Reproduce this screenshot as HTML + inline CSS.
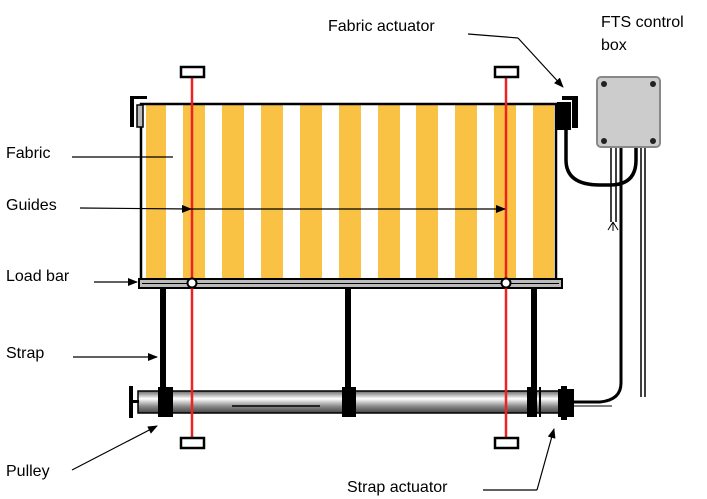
<!DOCTYPE html>
<html><head><style>body{margin:0;background:#fff}svg{display:block}text{font-family:"Liberation Sans",Arial,sans-serif;font-size:16px;fill:#000}</style></head><body>
<svg width="707" height="499" viewBox="0 0 707 499">
<defs>
<linearGradient id="rg" x1="0" y1="0" x2="0" y2="1">
<stop offset="0" stop-color="#666"/><stop offset="0.35" stop-color="#fff"/><stop offset="0.7" stop-color="#888"/><stop offset="1" stop-color="#444"/></linearGradient>
<marker id="ah" markerWidth="10" markerHeight="8" refX="9" refY="4" orient="auto" markerUnits="userSpaceOnUse"><path d="M0,0L10,4L0,8z" fill="#000"/></marker>
</defs>
<rect x="141" y="104" width="416" height="176" fill="#fff"/>
<g fill="#f9c244">
<rect x="146" y="105" width="20" height="174"/><rect x="183" y="105" width="22" height="174"/><rect x="222" y="105" width="22" height="174"/><rect x="261" y="105" width="22" height="174"/><rect x="300" y="105" width="22" height="174"/><rect x="339" y="105" width="22" height="174"/><rect x="378" y="105" width="22" height="174"/><rect x="416" y="105" width="22" height="174"/><rect x="455" y="105" width="22" height="174"/><rect x="494" y="105" width="22" height="174"/><rect x="533" y="105" width="21" height="174"/>
</g>
<rect x="141" y="104" width="415" height="176" fill="none" stroke="#000" stroke-width="2.5"/>
<path d="M130,96 h17 v3 h-13 v28 h-4z" fill="#000"/>
<rect x="137" y="105" width="6" height="22" fill="#bbb" stroke="#000" stroke-width="1.5"/>
<rect x="557" y="102" width="14" height="28" fill="#000"/>
<path d="M562,96 h16 v32 h-6 v-28 h-10z" fill="#000"/>
<rect x="139" y="279" width="423" height="9" fill="#bbb" stroke="#000" stroke-width="2"/>
<line x1="142" y1="283.5" x2="559" y2="283.5" stroke="#000" stroke-width="1"/>
<g fill="#000"><rect x="160" y="288" width="6" height="102"/><rect x="345" y="288" width="6" height="102"/><rect x="531" y="288" width="6" height="102"/></g>
<rect x="138" y="391" width="422" height="22" fill="url(#rg)" stroke="#000" stroke-width="1.5"/>
<line x1="232" y1="406" x2="320" y2="406" stroke="#000" stroke-width="1.5"/>
<rect x="129" y="386" width="4" height="32" fill="#000"/><rect x="131" y="400" width="8" height="3" fill="#000"/>
<g fill="#000">
<rect x="158" y="387" width="15" height="30"/><rect x="342" y="387" width="14" height="30"/><rect x="527" y="387" width="10" height="30"/><rect x="539" y="387" width="2" height="30"/>
<rect x="558" y="389" width="16" height="28"/><rect x="561" y="386" width="6" height="34"/>
</g>
<g stroke="#e22" stroke-width="2.5"><line x1="192" y1="76" x2="192" y2="438"/><line x1="506" y1="76" x2="506" y2="438"/></g>
<g fill="#fff" stroke="#000" stroke-width="2.5">
<rect x="181" y="67" width="23" height="10"/><rect x="495" y="67" width="23" height="10"/>
<rect x="181" y="438" width="23" height="10"/><rect x="495" y="438" width="23" height="10"/>
<circle cx="192" cy="283" r="4.5" stroke-width="2"/><circle cx="506" cy="283" r="4.5" stroke-width="2"/>
</g>
<rect x="597" y="77" width="63" height="70" rx="4" fill="#ccc" stroke="#888" stroke-width="2"/>
<g fill="#222"><circle cx="604" cy="84" r="3"/><circle cx="653" cy="84" r="3"/><circle cx="604" cy="141" r="3"/><circle cx="653" cy="141" r="3"/></g>
<g fill="none" stroke="#000">
<path d="M566,130 V160 Q566,185 600,185 H610 Q636,185 636,160 V148" stroke-width="3.5"/>
<path d="M621,148 V383 Q621,400 600,402 H574" stroke-width="3"/>
<path d="M611,148 V222 M616,148 V222" stroke-width="1.5"/>
<path d="M613,222 L608,230 M613,222 L613,231 M613,222 L618,230" stroke-width="1"/>
<path d="M641,148 V397 M645,148 V397" stroke-width="1.5"/>
<path d="M574,406 H612" stroke-width="1"/>
</g>
<text x="328" y="31">Fabric actuator</text>
<text x="601" y="27">FTS control</text>
<text x="601" y="50">box</text>
<text x="6" y="158">Fabric</text>
<text x="6" y="210">Guides</text>
<text x="6" y="281">Load bar</text>
<text x="6" y="358">Strap</text>
<text x="6" y="476">Pulley</text>
<text x="347" y="492">Strap actuator</text>
<g stroke="#000" stroke-width="1.2" fill="none">
<line x1="468" y1="34" x2="518" y2="38"/><line x1="518" y1="38" x2="563" y2="87" marker-end="url(#ah)"/>
<line x1="72" y1="157" x2="173" y2="157"/>
<line x1="80" y1="208" x2="191" y2="209" marker-end="url(#ah)"/>
<line x1="191" y1="209" x2="505" y2="209" marker-end="url(#ah)"/>
<line x1="94" y1="282" x2="137" y2="282" marker-end="url(#ah)"/>
<line x1="73" y1="357" x2="157" y2="357" marker-end="url(#ah)"/>
<line x1="72" y1="470" x2="157" y2="426" marker-end="url(#ah)"/>
<line x1="483" y1="490" x2="537" y2="490"/><line x1="537" y1="490" x2="554" y2="429" marker-end="url(#ah)"/>
</g>
</svg>
</body></html>
